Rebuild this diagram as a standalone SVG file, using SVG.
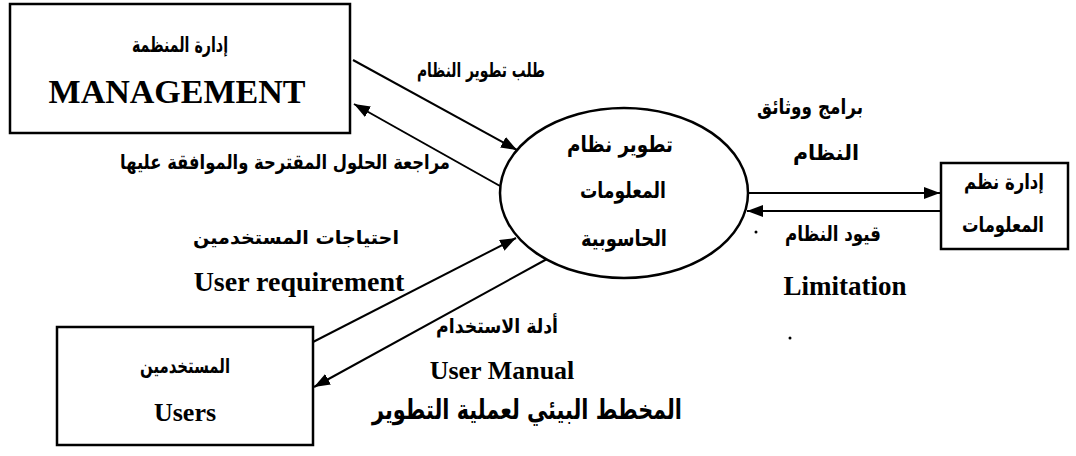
<svg xmlns="http://www.w3.org/2000/svg" width="1076" height="456" viewBox="0 0 1076 456">
<defs>
<style>
.box{fill:#fff;stroke:#000;stroke-width:2.5}
.ln{fill:none;stroke:#000;stroke-width:2}
.ar{font-family:"DejaVu Sans",sans-serif;font-weight:bold;fill:#000;text-anchor:middle}
.en{font-family:"Liberation Serif",serif;font-weight:bold;fill:#000;text-anchor:middle}
</style>
<marker id="ah" viewBox="0 0 16 12" refX="16" refY="6" markerWidth="16" markerHeight="12" markerUnits="userSpaceOnUse" orient="auto">
<path d="M0,0 L16,6 L0,12 Z" fill="#000"/>
</marker>
</defs>
<rect width="1076" height="456" fill="#fff"/>
<g id="connectors">
<line class="ln" x1="353" y1="60" x2="517" y2="150" marker-end="url(#ah)"/>
<line class="ln" x1="500" y1="186" x2="354" y2="104" marker-end="url(#ah)"/>
<line class="ln" x1="749" y1="193" x2="940" y2="193" marker-end="url(#ah)"/>
<line class="ln" x1="940" y1="211" x2="747" y2="211" marker-end="url(#ah)"/>
<line class="ln" x1="313" y1="342" x2="516" y2="238" marker-end="url(#ah)"/>
<line class="ln" x1="547" y1="259" x2="314" y2="387" marker-end="url(#ah)"/>
</g>
<g id="management">
<rect class="box" x="10" y="4" width="340" height="129"/>
<text class="ar" x="180" y="52" font-size="21" textLength="96" lengthAdjust="spacingAndGlyphs">إدارة المنظمة</text>
<text class="en" x="177" y="103" font-size="34">MANAGEMENT</text>
</g>
<g id="process">
<ellipse class="box" cx="624" cy="193" rx="124" ry="85"/>
<text class="ar" x="620" y="152" font-size="22" textLength="106" lengthAdjust="spacingAndGlyphs">تطوير نظام</text>
<text class="ar" x="623" y="198" font-size="22" textLength="86" lengthAdjust="spacingAndGlyphs">المعلومات</text>
<text class="ar" x="624" y="246" font-size="22" textLength="86" lengthAdjust="spacingAndGlyphs">الحاسوبية</text>
</g>
<g id="ismanagement">
<rect class="box" x="941" y="163" width="127" height="86"/>
<text class="ar" x="1004" y="189" font-size="21" textLength="80" lengthAdjust="spacingAndGlyphs">إدارة نظم</text>
<text class="ar" x="1003" y="232" font-size="21" textLength="82" lengthAdjust="spacingAndGlyphs">المعلومات</text>
</g>
<g id="users">
<rect class="box" x="57" y="327" width="256" height="118"/>
<text class="ar" x="185" y="373" font-size="20" textLength="90" lengthAdjust="spacingAndGlyphs">المستخدمين</text>
<text class="en" x="185" y="421" font-size="26">Users</text>
</g>
<g id="labels">
<text class="ar" x="481" y="77" font-size="20" textLength="128" lengthAdjust="spacingAndGlyphs">طلب تطوير النظام</text>
<text class="ar" x="285" y="169" font-size="20" textLength="330" lengthAdjust="spacingAndGlyphs">مراجعة الحلول المقترحة والموافقة عليها</text>
<text class="ar" x="810" y="114" font-size="21" textLength="106" lengthAdjust="spacingAndGlyphs">برامج ووثائق</text>
<text class="ar" x="826" y="160" font-size="21" textLength="66" lengthAdjust="spacingAndGlyphs">النظام</text>
<text class="ar" x="833" y="241" font-size="21" textLength="96" lengthAdjust="spacingAndGlyphs">قيود النظام</text>
<text class="en" x="845" y="295" font-size="27">Limitation</text>
<text class="ar" x="296" y="244" font-size="19" textLength="206" lengthAdjust="spacingAndGlyphs">احتياجات المستخدمين</text>
<text class="en" x="299" y="291" font-size="28">User requirement</text>
<text class="ar" x="497" y="333" font-size="20" textLength="122" lengthAdjust="spacingAndGlyphs">أدلة الاستخدام</text>
<text class="en" x="502" y="379" font-size="26">User Manual</text>
<text class="ar" x="527" y="419" font-size="27" textLength="310" lengthAdjust="spacingAndGlyphs">المخطط البيئي لعملية التطوير</text>
<circle cx="756" cy="232" r="1.5" fill="#000"/>
<circle cx="790" cy="338" r="1.5" fill="#000"/>
</g>
</svg>
